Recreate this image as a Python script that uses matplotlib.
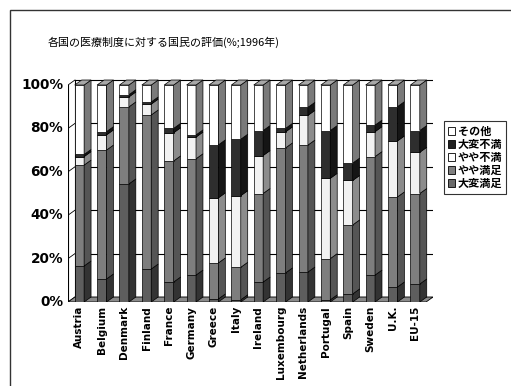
import matplotlib
matplotlib.use('Agg')
import numpy as np
import matplotlib.pyplot as plt
from matplotlib.patches import Patch, Rectangle

plt.rcParams['font.family'] = ['DejaVu Sans', 'Noto Sans CJK JP']

countries = ['Austria', 'Belgium', 'Denmark', 'Finland', 'France', 'Germany',
             'Greece', 'Italy', 'Ireland', 'Luxembourg', 'Netherlands',
             'Portugal', 'Spain', 'Sweden', 'U.K.', 'EU-15']

## bottom to top: 大変満足, やや満足, やや不満, 大変不満, その他
very_satisfied = [16.6, 10.6, 54.4, 15.2, 9.2, 12.4, 1.4, 1.0, 9.2, 13.4, 13.8, 1.0, 3.7, 12.4, 6.9, 8.3]
fairly_satisfied = [46.5, 59.4, 35.5, 71.0, 55.8, 53.6, 16.6, 15.0, 40.8, 57.6, 58.5, 19.0, 31.8, 54.6, 41.5, 41.7]
fairly_dissatisfied = [3.9, 7.0, 4.6, 5.0, 13.0, 10.0, 30.0, 33.0, 17.5, 7.4, 13.7, 37.0, 20.5, 11.5, 25.8, 19.0]
very_dissatisfied = [1.0, 1.5, 1.0, 1.0, 2.0, 1.0, 24.4, 26.0, 11.5, 1.6, 3.7, 22.0, 8.0, 3.0, 15.8, 10.0]
other = [32.0, 21.5, 4.5, 7.8, 20.0, 23.0, 27.6, 25.0, 21.0, 20.0, 10.3, 21.0, 36.0, 18.5, 10.0, 21.0]

labels = ['大変満足', 'やや満足', 'やや不満', '大変不満', 'その他']
series = [very_satisfied, fairly_satisfied, fairly_dissatisfied, very_dissatisfied, other]
front_cols = ['#5e5e5e', '#7e7e7e', '#f2f2f2', '#2e2e2e', '#ffffff']
side_cols = ['#333333', '#555555', '#8c8c8c', '#151515', '#7a7a7a']
legend_cols = ['#6a6a6a', '#808080', '#ffffff', '#202020', '#ffffff']

yticks = [0, 20, 40, 60, 80, 100]

W = 0.42     # front width
DX = 0.31    # depth in x units
DY = 2.3     # depth in % units
X0, X1 = -0.51, 15.8

fig = plt.figure(figsize=(5.11, 3.86), dpi=100)
fig.patches.append(Rectangle((10 / 511, -0.1), 1.2, 1 - 10 / 386 + 0.1,
                             transform=fig.transFigure, fill=False,
                             edgecolor='#333333', lw=1.0))

ax = fig.add_axes([68 / 511, (386 - 302) / 386, 365 / 511, (302 - 78.5) / 386])
ax.set_xlim(X0, X1)
ax.set_ylim(0, 103)
ax.axis('off')

x = np.arange(len(countries))

## back wall gridlines + left wall
for t in yticks:
    ax.plot([X0 + DX, X1], [t + DY, t + DY], color='black', lw=0.8, zorder=1)
    ax.plot([X0, X0 + DX], [t, t + DY], color='black', lw=0.6, zorder=1)
    ax.text(X0 - 0.22, t, f'{t}%', ha='right', va='center', fontsize=9.8,
            fontweight='bold')
ax.plot([X0, X0], [0, 100], color='black', lw=0.8, zorder=1)
ax.plot([X0 + DX, X0 + DX], [DY, 100 + DY], color='black', lw=0.8, zorder=1)

## floor
ax.fill([X0, X1 - DX, X1, X0 + DX], [0, 0, DY, DY], facecolor='#8a8a8a',
        edgecolor='black', lw=0.6, zorder=2)

## bars
bottom = np.zeros(len(countries))
for vals, fc, sc in zip(series, front_cols, side_cols):
    vals = np.array(vals)
    ax.bar(x, vals, width=W, bottom=bottom, color=fc, edgecolor='black',
           lw=0.5, zorder=3)
    for i in range(len(x)):
        xr = x[i] + W / 2
        b, t = bottom[i], bottom[i] + vals[i]
        ax.fill([xr, xr + DX, xr + DX, xr], [b, b + DY, t + DY, t],
                facecolor=sc, edgecolor='black', lw=0.5, zorder=3)
    bottom = bottom + vals

## top faces
for i in range(len(x)):
    xl, xr = x[i] - W / 2, x[i] + W / 2
    t = bottom[i]
    ax.fill([xl, xl + DX, xr + DX, xr], [t, t + DY, t + DY, t],
            facecolor='#a8a8a8', edgecolor='black', lw=0.5, zorder=3)

for i, c in enumerate(countries):
    ax.text(x[i], -1.8, c, rotation=90, ha='center', va='top', fontsize=7.5,
            fontweight='bold')

fig.text(164 / 511, 1 - 42 / 386, '各国の医療制度に対する国民の評価(%;1996年)',
         ha='center', va='center', fontsize=7.9,
         family=['Noto Sans CJK JP', 'DejaVu Sans'])

handles = [Patch(facecolor=legend_cols[k], edgecolor='black', lw=0.6, label=labels[k])
           for k in range(4, -1, -1)]
leg = fig.legend(handles=handles, loc='upper left',
                 bbox_to_anchor=(444 / 511, 1 - 121 / 386),
                 prop={'family': ['Noto Sans CJK JP'], 'size': 8, 'weight': 'bold'},
                 frameon=True, fancybox=False, edgecolor='black',
                 handlelength=0.6, handleheight=0.6, handletextpad=0.3,
                 labelspacing=0.0, borderpad=0.35, borderaxespad=0)
leg.get_frame().set_linewidth(0.8)

fig.savefig('out.png', dpi=100)
